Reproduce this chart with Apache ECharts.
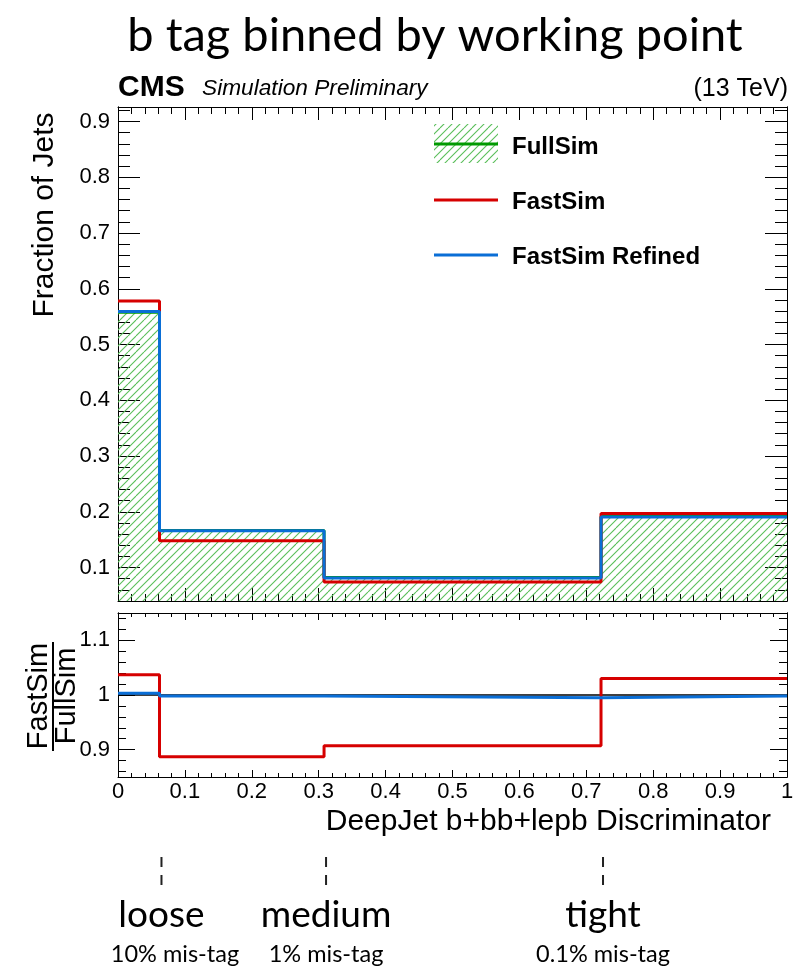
<!DOCTYPE html>
<html><head><meta charset="utf-8">
<script src="https://cdn.jsdelivr.net/npm/echarts@6/dist/echarts.min.js"></script>
<style>html,body{margin:0;padding:0;background:#fff}#c{width:810px;height:971px}</style>
</head><body><div id="c"></div>
<script>
// ---- data ----
const binEdges = [0, 0.062, 0.308, 0.722, 1];
const fullSim = [0.558, 0.1665, 0.082, 0.1915];
const fastSim = [0.578, 0.148, 0.0742, 0.197];
const fastSimRefined = [0.5593, 0.1662, 0.0814, 0.1907];
const ratioFastSim = [1.037, 0.887, 0.907, 1.030];
const ratioRefined = [1.003, 0.998, 0.995, 0.998];
const xTickLabels = ['0','0.1','0.2','0.3','0.4','0.5','0.6','0.7','0.8','0.9','1'];
const mainTickLabels = {1:'0.1',2:'0.2',3:'0.3',4:'0.4',5:'0.5',6:'0.6',7:'0.7',8:'0.8',9:'0.9'};
const ratioTickLabels = {9:'0.9',10:'1',11:'1.1'};
const wpNames = ['loose','medium','tight'];
const wpMisTag = ['10% mis-tag','1% mis-tag','0.1% mis-tag'];
const wpCuts = [0.062, 0.308, 0.722];
const legendNames = ['FullSim','FastSim','FastSim Refined'];

const RED = '#d60000', BLUE = '#0a6ed6', GREEN = '#009a00';
const AX = 'Liberation Sans, Arial, Helvetica, sans-serif';
const HUM = 'Lato, sans-serif';

function steps(vals){
  const pts = vals.map((v,i)=>[binEdges[i], v]);
  pts.push([binEdges[binEdges.length-1], vals[vals.length-1]]);
  return pts;
}

// hatch pattern
const hatchCanvas = document.createElement('canvas');
hatchCanvas.width = 16; hatchCanvas.height = 16;
const hctx = hatchCanvas.getContext('2d');
hctx.clearRect(0,0,16,16);
hctx.globalAlpha = 1;
hctx.strokeStyle = '#5cbf5c';
hctx.lineWidth = 1.1;
hctx.beginPath();
for (let k = -16; k <= 32; k += 8) { hctx.moveTo(k, 16); hctx.lineTo(k + 16, 0); }
hctx.stroke();
const hatch = {image: hatchCanvas, repeat: 'repeat'};

const chart = echarts.init(document.getElementById('c'), null, {renderer:'canvas'});

function xAx(grid, pos, showLabels, majLen, minLen){
  return {type:'value', gridIndex:grid, position:pos, min:0, max:1, interval:0.1,
    axisLine:{show:true, onZero:false, lineStyle:{color:'#000', width:1}},
    axisTick:{show:true, inside:true, length:majLen, lineStyle:{color:'#000', width:1}},
    minorTick:{show:true, splitNumber:5, length:minLen, lineStyle:{color:'#000', width:1}},
    splitLine:{show:false}, minorSplitLine:{show:false},
    axisLabel:{show:showLabels, fontFamily:AX, fontSize:22, color:'#000', margin:4,
      formatter:v=>xTickLabels[Math.round(v*10)]}
  };
}
function yAx(grid, pos, min, max, split, len, labels){
  return {type:'value', gridIndex:grid, position:pos, min:min, max:max, splitNumber:split,
    axisLine:{show:true, onZero:false, lineStyle:{color:'#000', width:1}},
    axisTick:{show:true, inside:true, length:len, lineStyle:{color:'#000', width:1}},
    splitLine:{show:false},
    axisLabel:{show:!!labels, showMinLabel:false, showMaxLabel:false, fontFamily:AX, fontSize:22, color:'#000', margin:8,
      formatter:v=>labels ? (labels[Math.round(v*10)] || '') : ''}
  };
}

const option = {
  animation:false,
  backgroundColor:'#fff',
  grid:[
    {left:118, top:107, width:669, height:494, containLabel:false},
    {left:118, top:613, width:669, height:164, containLabel:false}
  ],
  xAxis:[
    xAx(0,'bottom',false,13,7),
    xAx(0,'top',false,13,7),
    xAx(1,'bottom',true,7,4),
    xAx(1,'top',false,7,4)
  ],
  yAxis:[
    yAx(0,'left',0.04,0.926,9,22,mainTickLabels),
    yAx(0,'left',0.04,0.926,44,12,null),
    yAx(0,'right',0.04,0.926,9,22,null),
    yAx(0,'right',0.04,0.926,44,12,null),
    yAx(1,'left',0.85,1.15,3,17,ratioTickLabels),
    yAx(1,'left',0.85,1.15,15,8,null),
    yAx(1,'right',0.85,1.15,3,17,null),
    yAx(1,'right',0.85,1.15,15,8,null)
  ],
  series:[
    {name:legendNames[0], type:'line', xAxisIndex:0, yAxisIndex:0, step:'end', data:steps(fullSim),
      symbol:'none', lineStyle:{color:GREEN, width:3}, areaStyle:{color:hatch, origin:'start', opacity:1}, z:2},
    {name:legendNames[1], type:'line', xAxisIndex:0, yAxisIndex:0, step:'end', data:steps(fastSim),
      symbol:'none', lineStyle:{color:RED, width:3}, z:3},
    {name:legendNames[2], type:'line', xAxisIndex:0, yAxisIndex:0, step:'end', data:steps(fastSimRefined),
      symbol:'none', lineStyle:{color:BLUE, width:3}, z:4},
    {name:'unity', type:'line', xAxisIndex:2, yAxisIndex:4, data:[[0,1],[1,1]],
      symbol:'none', lineStyle:{color:'#000', width:1.5}, z:2},
    {name:'ratioFast', type:'line', xAxisIndex:2, yAxisIndex:4, step:'end', data:steps(ratioFastSim),
      symbol:'none', lineStyle:{color:RED, width:3}, z:3},
    {name:'ratioRefined', type:'line', xAxisIndex:2, yAxisIndex:4, step:'end', data:steps(ratioRefined),
      symbol:'none', lineStyle:{color:BLUE, width:3}, z:4}
  ]
};
chart.setOption(option);

// ---- annotations ----
const gr = [];
gr.push({type:'text', x:435, y:36, style:{text:'b tag binned by working point', font:'47px '+HUM, fill:'#000', textAlign:'center', textVerticalAlign:'middle'}});
gr.push({type:'text', x:118, y:88, style:{text:'CMS', font:'bold 30px '+AX, fill:'#000', textAlign:'left', textVerticalAlign:'middle'}});
gr.push({type:'text', x:202, y:89, style:{text:'Simulation Preliminary', font:'italic 22.7px '+AX, fill:'#000', textAlign:'left', textVerticalAlign:'middle'}});
gr.push({type:'text', x:788, y:89, style:{text:'(13 TeV)', font:'25px '+AX, fill:'#000', textAlign:'right', textVerticalAlign:'middle'}});
gr.push({type:'text', x:45, y:215, rotation:Math.PI/2, style:{text:'Fraction of Jets', font:'30px '+AX, fill:'#000', textAlign:'center', textVerticalAlign:'middle'}});
gr.push({type:'text', x:39, y:696, rotation:Math.PI/2, style:{text:'FastSim', font:'29px '+AX, fill:'#000', textAlign:'center', textVerticalAlign:'middle'}});
gr.push({type:'text', x:67, y:696, rotation:Math.PI/2, style:{text:'FullSim', font:'29px '+AX, fill:'#000', textAlign:'center', textVerticalAlign:'middle'}});
gr.push({type:'line', shape:{x1:53, y1:642, x2:53, y2:751}, style:{stroke:'#000', lineWidth:2}});
gr.push({type:'text', x:771, y:822, style:{text:'DeepJet b+bb+lepb Discriminator', font:'30px '+AX, fill:'#000', textAlign:'right', textVerticalAlign:'middle'}});
// legend
gr.push({type:'rect', shape:{x:434, y:124, width:64, height:39}, style:{fill:hatch}});
gr.push({type:'line', shape:{x1:434, y1:144, x2:498, y2:144}, style:{stroke:GREEN, lineWidth:3}});
gr.push({type:'line', shape:{x1:434, y1:200, x2:498, y2:200}, style:{stroke:RED, lineWidth:3}});
gr.push({type:'line', shape:{x1:434, y1:255, x2:498, y2:255}, style:{stroke:BLUE, lineWidth:3}});
[147, 202, 257].forEach((yy,i)=>{
  gr.push({type:'text', x:512, y:yy, style:{text:legendNames[i], font:'bold 24px '+AX, fill:'#000', textAlign:'left', textVerticalAlign:'middle'}});
});
// working point annotations
wpCuts.forEach((c,i)=>{
  const px = chart.convertToPixel({xAxisIndex:2}, c);
  gr.push({type:'line', shape:{x1:px+2, y1:857, x2:px+2, y2:886}, style:{stroke:'#222', lineWidth:2, lineDash:[10,8]}});
  gr.push({type:'text', x:px+2, y:915, style:{text:wpNames[i], font:'37px '+HUM, fill:'#000', textAlign:'center', textVerticalAlign:'middle'}});
  gr.push({type:'text', x:Math.max(px+2, 175), y:954, style:{text:wpMisTag[i], font:'23.5px '+HUM, fill:'#000', textAlign:'center', textVerticalAlign:'middle'}});
});
chart.setOption({graphic:{elements:gr}});
</script>
</body></html>
